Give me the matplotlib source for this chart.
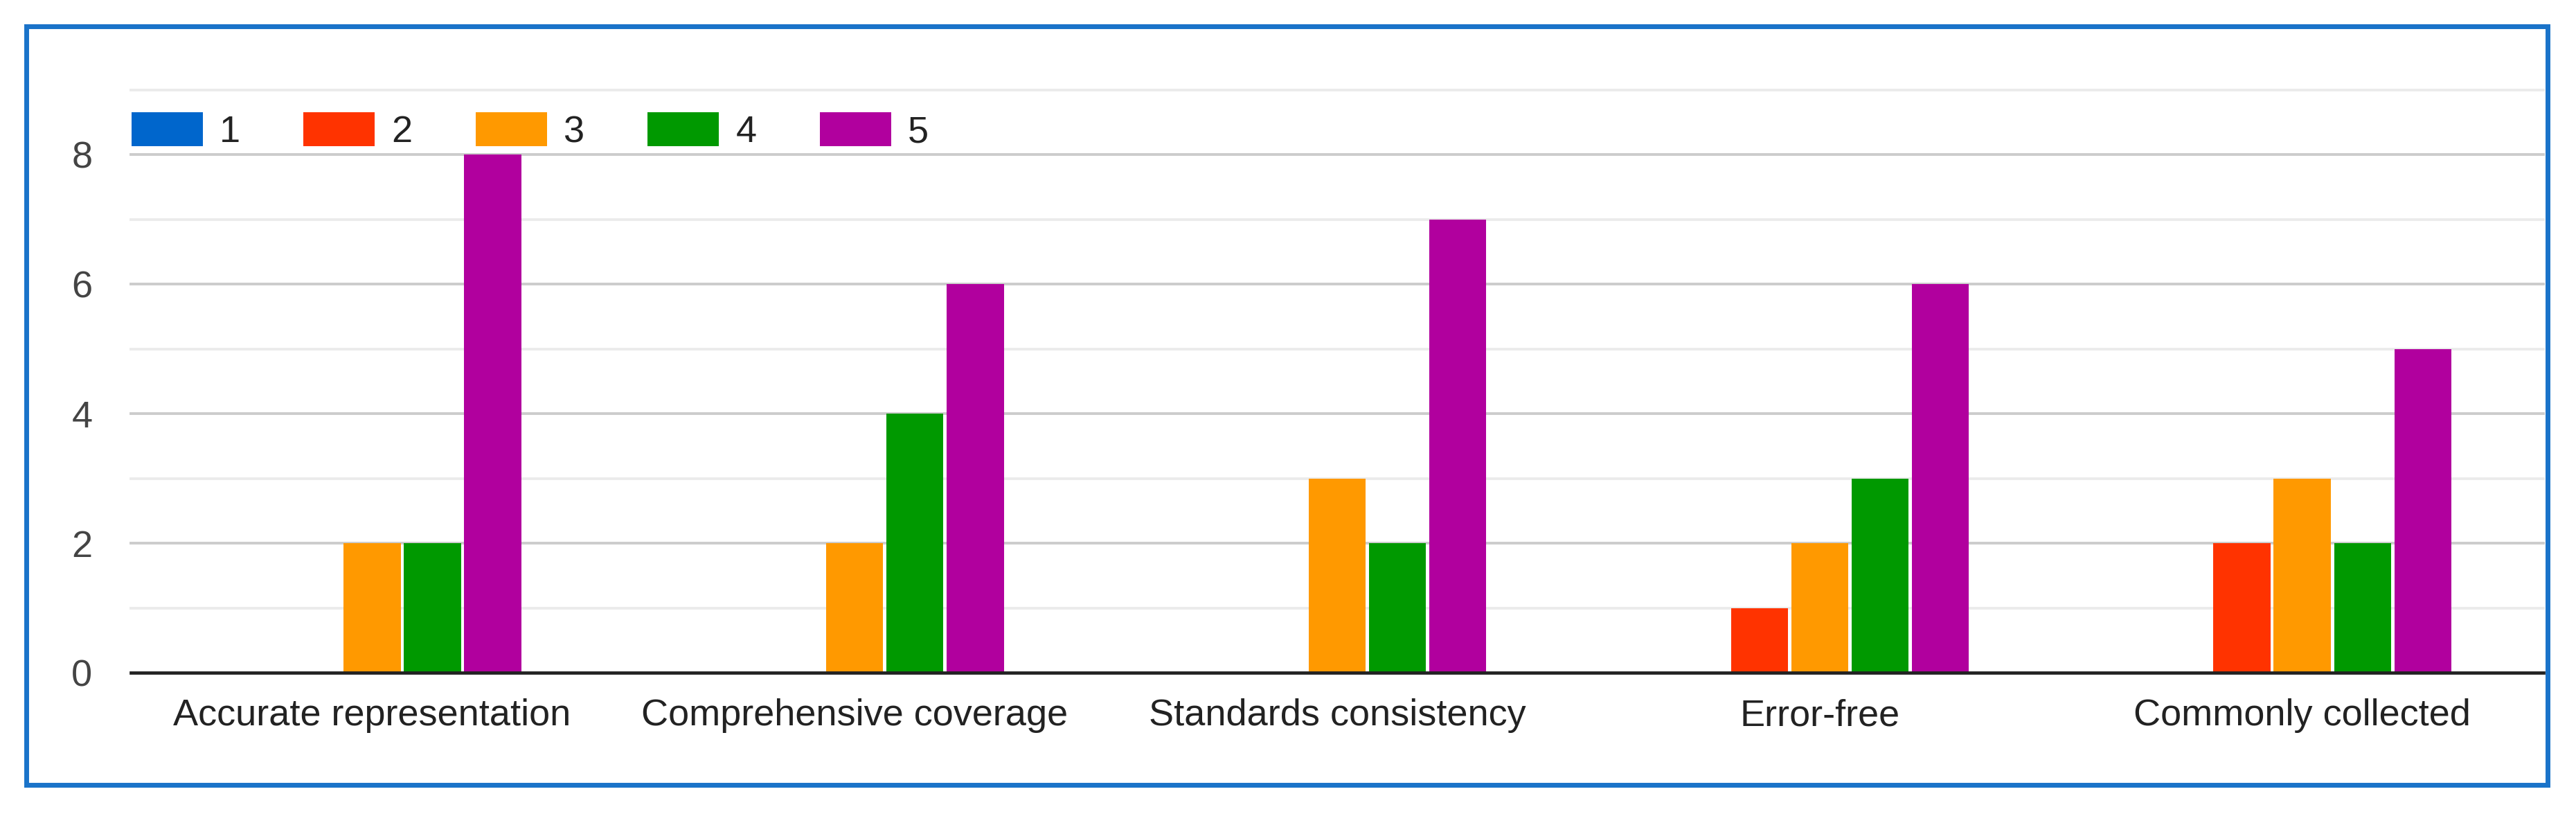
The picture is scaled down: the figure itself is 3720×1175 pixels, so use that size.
import matplotlib.pyplot as plt
from matplotlib.patches import Rectangle
import numpy as np

plt.rcParams['font.family'] = ['Liberation Sans', 'DejaVu Sans']

categories = ["Accurate representation", "Comprehensive coverage",
              "Standards consistency", "Error-free", "Commonly collected"]
ratings = ["1", "2", "3", "4", "5"]
counts_1 = [0, 0, 0, 0, 0]
counts_2 = [0, 0, 0, 1, 2]
counts_3 = [2, 2, 3, 2, 3]
counts_4 = [2, 4, 2, 3, 2]
counts_5 = [8, 6, 7, 6, 5]
colors = ["#0066cc", "#ff3300", "#ff9900", "#009900", "#b1009e"]
y_ticks = [0, 2, 4, 6, 8]

W, H = 3720, 1175
FS = 39
fig = plt.figure(figsize=(W / 100, H / 100), dpi=100)
ax = fig.add_axes([189 / W, 1 - 971 / H, (3673 - 189) / W, (971 - 130) / H])

x = np.arange(len(categories))
slot = 0.125
series = [counts_1, counts_2, counts_3, counts_4, counts_5]
handles = []
for i, (vals, col) in enumerate(zip(series, colors)):
    b = ax.bar(x + (i - 2) * slot, vals, width=slot - 0.007, color=col, zorder=2,
               label=ratings[i])
    handles.append(b)

# gridlines, darker on the labelled values
for v in range(1, 10):
    ax.axhline(v, color="#cccccc" if v % 2 == 0 else "#ebebeb", lw=2.8, zorder=1,
               clip_on=False)
ax.axhline(0, color="#222222", lw=3.4, zorder=3, clip_on=False)

ax.set_xlim(-0.5, len(categories) - 0.5)
ax.set_ylim(0, 9)
ax.set_yticks(y_ticks)
ax.set_xticks(x)
ax.set_xticklabels(categories)
for s in ax.spines.values():
    s.set_visible(False)
ax.tick_params(axis="y", length=0, pad=40, labelsize=FS, labelcolor="#444444")
ax.tick_params(axis="x", length=0, pad=27, labelsize=FS, labelcolor="#222222")

leg = fig.legend(handles=handles, loc="upper left",
                 bbox_to_anchor=(190 / W, 1 - 162 / H), bbox_transform=fig.transFigure,
                 ncol=5, frameon=False, fontsize=FS, borderpad=0, borderaxespad=0,
                 handlelength=1.9, handleheight=1.02, handletextpad=0.45,
                 columnspacing=1.68)
for t in leg.get_texts():
    t.set_color("#222222")

# outer blue frame
fig.patches.append(Rectangle((37.5 / W, 1 - 1132.5 / H), (3678.5 - 37.5) / W,
                             (1132.5 - 38) / H, transform=fig.transFigure,
                             fill=False, edgecolor="#1a73c9", lw=5.0))

fig.savefig("out.png", dpi=100, facecolor="white")
